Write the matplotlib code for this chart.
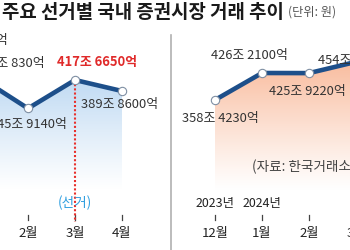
import numpy as np
import matplotlib
matplotlib.use('Agg')
import matplotlib.pyplot as plt
from matplotlib.patches import Polygon
import matplotlib.transforms as mtransforms

plt.rcParams['font.family'] = ['Noto Sans CJK KR', 'DejaVu Sans']

# 2022 대선 (left panel)
left_years = ['2021년', '2022년', '', '', '']
left_months = ['12월', '1월', '2월', '3월', '4월']
left_vals = [431.247, 422.083, 345.914, 417.665, 389.860]
left_labels = ['431조 2470억', '422조 830억', '345조 9140억', '417조 6650억', '389조 8600억']

# 2024 총선 (right panel)
right_years = ['2023년', '2024년', '', '']
right_months = ['12월', '1월', '2월', '3월']
right_vals = [358.423, 426.210, 425.922, 454.156]
right_labels = ['358조 4230억', '426조 2100억', '425조 9220억', '454조 1560억']

LINE = '#1d4f8a'
TXT = '#333333'

fig = plt.figure(figsize=(3.5, 2.5), dpi=100)
fig.patch.set_facecolor('white')

axL = fig.add_axes([0, 0, 170 / 350, 1])
axR = fig.add_axes([170 / 350, 0, 180 / 350, 1])

def gradient_fill(ax, x, y, ybot, ytop, rgb):
    verts = list(zip(x, y)) + [(x[-1], ybot), (x[0], ybot)]
    patch = Polygon(verts, closed=True, facecolor='none', edgecolor='none')
    ax.add_patch(patch)
    n = 256
    alpha = np.linspace(1, 0, n) ** 1.1
    img = np.zeros((n, 1, 4))
    img[:, 0, :3] = rgb
    img[:, 0, 3] = alpha
    im = ax.imshow(img, extent=[min(x), max(x), ybot, ytop], aspect='auto',
                   origin='upper', zorder=1, interpolation='bilinear')
    im.set_clip_path(patch)

def panel(ax, months, years, vals, labels, xlim, ylim, fillrgb, fill_bottom, offsets):
    x = np.arange(len(vals))
    gradient_fill(ax, x, vals, fill_bottom, max(vals), fillrgb)
    ax.plot(x, vals, color=LINE, lw=3.3, zorder=3, solid_joinstyle='miter',
            marker='o', ms=6, mfc='white', mec='#7f8fa3', mew=0.8)
    ax.set_xlim(*xlim)
    ax.set_ylim(*ylim)
    ax.axis('off')
    tr = mtransforms.blended_transform_factory(ax.transData, ax.transAxes)
    for i in x:
        ax.plot([i, i], [0.122, 0.14], color='#444444', lw=0.9, transform=tr, clip_on=False)
        ax.text(i, 0.068, months[i], transform=tr, ha='center', va='center',
                fontsize=9.5, color='#222222')
        if years[i]:
            ax.text(i, 0.188, years[i], transform=tr, ha='center', va='center',
                    fontsize=8.9, color='#222222')
    for i, (lab, (dx, dy, ha)) in enumerate(zip(labels, offsets)):
        ax.annotate(lab, (x[i], vals[i]), xytext=(dx, dy), textcoords='offset pixels',
                    ha=ha, va='center', fontsize=9.3, color=TXT, annotation_clip=False,
                    zorder=5)
    return x

offL = [(74, 34, 'right'), (64, 15, 'right'), (0, -16, 'center'), (22, 18, 'center'), (-2, -13, 'center')]
xL = panel(axL, left_months, left_years, left_vals, left_labels,
           (2 - 28 / 47, 2 + 142 / 47), (-11.6, 619.7), (0.74, 0.85, 0.95), 140, offL)
# highlight election month
t = axL.texts[-2]
t.set_color('#e02a2a')
t.set_fontweight('bold')
axL.plot([3, 3], [left_vals[3], -11.6 + (619.7 + 11.6) * (1 - 222 / 250)], color='#e8302c',
         lw=1.5, ls=(0, (1, 1)), zorder=2)
trL = mtransforms.blended_transform_factory(axL.transData, axL.transAxes)
axL.text(3, 1 - 203 / 250, '(선거)', transform=trL, ha='center', va='center',
         fontsize=9.8, color='#2f9fe0', zorder=4)

offR = [(5, -19, 'center'), (-13, 17, 'center'), (-2, -18, 'center'), (-38, 1, 'left')]
xR = panel(axR, right_months, right_years, right_vals, right_labels,
           (-45 / 47, 135 / 47), (-18.5, 609.6), (0.98, 0.74, 0.62), 130, offR)

# divider
fig.add_artist(plt.Line2D([171 / 350, 171 / 350], [0, 1 - 35 / 250], color='#b0b0b0', lw=1.2))

fig.text(2 / 350, 1 - 12 / 250, '주요 선거별 국내 증권시장 거래 추이', ha='left', va='center',
         fontsize=13.6, fontweight='bold', color='#1a1a1a')
fig.text(288 / 350, 1 - 12 / 250, '(단위: 원)', ha='left', va='center',
         fontsize=8.8, color='#555555')
fig.text(252 / 350, 1 - 167 / 250, '(자료: 한국거래소)', ha='left', va='center',
         fontsize=9.8, color='#444444')

fig.savefig('out.png', dpi=100)
